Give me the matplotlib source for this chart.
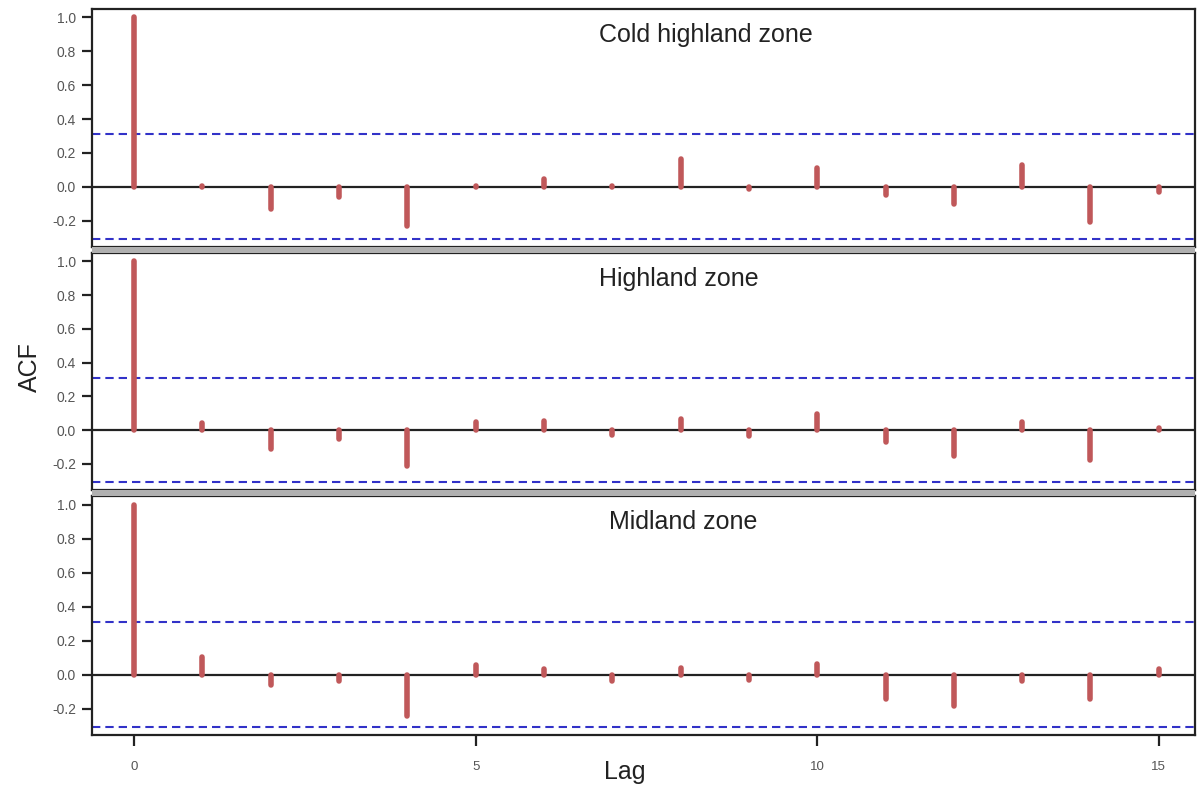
import matplotlib
matplotlib.use("Agg")
import matplotlib.pyplot as plt
import matplotlib.patches as mpatches

plt.rcParams["font.family"] = ["Liberation Sans", "DejaVu Sans"]

# lags and ACF values
lags = list(range(16))
acf_cold = [1.0, 0.005, -0.13, -0.06, -0.23, 0.005, 0.045, 0.003, 0.165, -0.01,
            0.11, -0.05, -0.10, 0.13, -0.21, -0.03]
acf_high = [1.0, 0.04, -0.11, -0.05, -0.21, 0.05, 0.055, -0.03, 0.065, -0.035,
            0.095, -0.07, -0.155, 0.05, -0.175, 0.01]
acf_mid = [1.0, 0.105, -0.06, -0.04, -0.245, 0.055, 0.035, -0.04, 0.04, -0.03,
           0.06, -0.145, -0.185, -0.04, -0.145, 0.035]
zones = ["Cold highland zone", "Highland zone", "Midland zone"]
ci = 0.31

W, H = 1197, 785
fig = plt.figure(figsize=(W / 100, H / 100), dpi=100)

# panel frames in pixels: (top, bottom)
rows = [(9, 247), (253, 490), (496, 735)]
left_px, right_px = 92, 1195
title_x = [0.557, 0.532, 0.536]

bar_col = "#c0585a"
ci_col = "#3232c8"
tick_col = "#555555"

# thin grey band between the stacked frames
for y0, y1 in [(247, 253), (490, 496)]:
    fig.patches.append(mpatches.Rectangle((left_px / W, 1 - y1 / H), (right_px - left_px) / W,
                                          (y1 - y0) / H, transform=fig.transFigure,
                                          facecolor="#b0b0b0", edgecolor="none", zorder=0))

axes = []
for i, (acf, name) in enumerate(zip([acf_cold, acf_high, acf_mid], zones)):
    top, bot = rows[i]
    ax = fig.add_axes([left_px / W, 1 - bot / H, (right_px - left_px) / W, (bot - top) / H])
    ax.vlines(lags, 0, acf, color=bar_col, linewidth=4.0, capstyle="round", zorder=3)
    ax.axhline(0, color="#222222", linewidth=1.6, zorder=2)
    ax.axhline(ci, color=ci_col, linewidth=1.5, linestyle=(0, (4, 2.4)), zorder=2)
    ax.axhline(-ci, color=ci_col, linewidth=1.5, linestyle=(0, (4, 2.4)), zorder=2)
    ax.set_xlim(-0.615, 15.53)
    ax.set_ylim(-0.355, 1.05)
    ax.set_yticks([-0.2, 0.0, 0.2, 0.4, 0.6, 0.8, 1.0])
    ax.set_yticklabels(["-0.2", "0.0", "0.2", "0.4", "0.6", "0.8", "1.0"])
    ax.tick_params(axis="y", direction="out", length=7, width=1.6, color="#222222",
                   labelsize=10, labelcolor=tick_col, pad=4.5)
    for s in ax.spines.values():
        s.set_linewidth(1.6)
        s.set_color("#222222")
    ax.text(title_x[i], 0.89, name, transform=ax.transAxes, ha="center", va="center",
            fontsize=18, color="#222222")
    if i < 2:
        ax.set_xticks([])
    else:
        ax.set_xticks([0, 5, 10, 15])
        ax.tick_params(axis="x", direction="out", length=8, width=1.6, color="#222222",
                       labelsize=9.5, labelcolor=tick_col, pad=11)
    axes.append(ax)

fig.text(625 / W, 1 - 772 / H, "Lag", ha="center", va="center", fontsize=18, color="#222222")
fig.text(30 / W, 1 - 367 / H, "ACF", ha="center", va="center", fontsize=18,
         rotation=90, color="#222222")

fig.savefig("out.png", dpi=100)
